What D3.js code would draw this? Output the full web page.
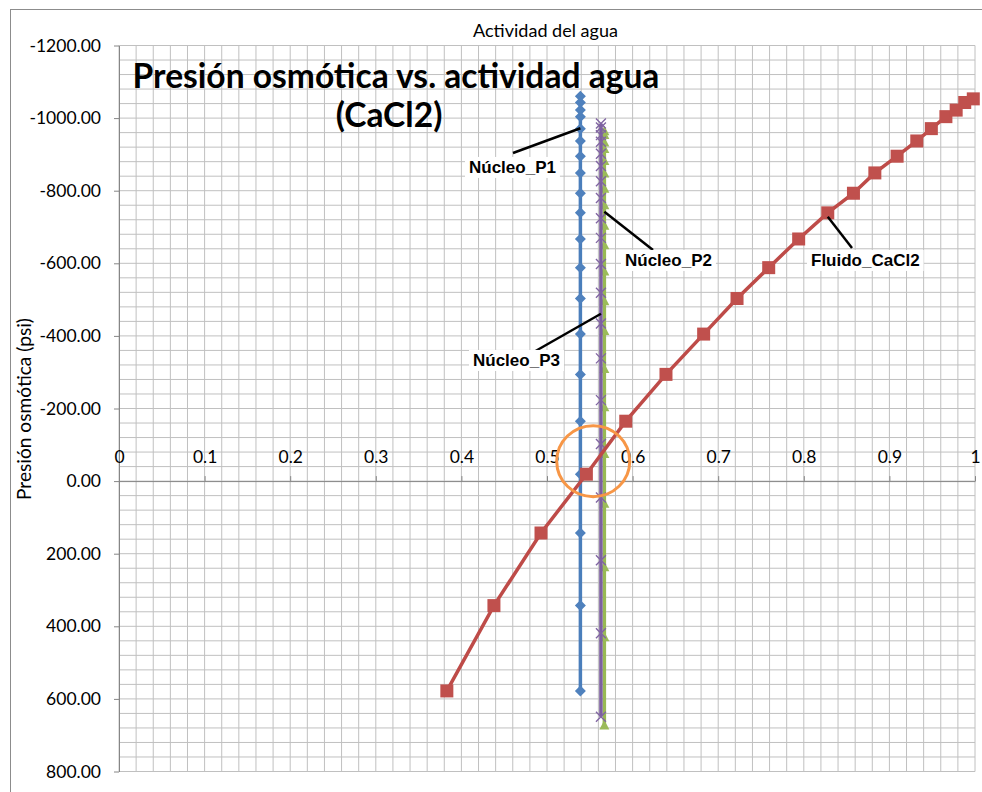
<!DOCTYPE html>
<html>
<head>
<meta charset="utf-8">
<script src="https://cdn.jsdelivr.net/npm/d3@7"></script>
<style>
  html, body { margin: 0; padding: 0; background: #fff; }
  svg { display: block; }
</style>
</head>
<body>
<svg id="chart" width="982" height="792"></svg>
<script>
// ---------------- DATA ----------------
const xTickValues = [0, 0.1, 0.2, 0.3, 0.4, 0.5, 0.6, 0.7, 0.8, 0.9, 1];
const xTickLabels = ["0", "0.1", "0.2", "0.3", "0.4", "0.5", "0.6", "0.7", "0.8", "0.9", "1"];
const yTickValues = [-1200, -1000, -800, -600, -400, -200, 0, 200, 400, 600, 800];
const yTickLabels = ["-1200.00", "-1000.00", "-800.00", "-600.00", "-400.00", "-200.00", "0.00", "200.00", "400.00", "600.00", "800.00"];

// Fluido_CaCl2 (water activity, osmotic pressure psi)
const fluidoAw = [0.383, 0.438, 0.493, 0.546, 0.592, 0.639, 0.683, 0.722, 0.759, 0.794,
                  0.828, 0.858, 0.883, 0.909, 0.932, 0.949, 0.966, 0.978, 0.988, 0.998];
const fluidoP  = [578, 343, 143, -19, -165, -294, -405, -503, -588, -667,
                  -739, -793, -849, -895, -937, -971, -1004, -1022, -1043, -1053];

// Núcleo_P1
const nucleoP1Aw = [0.539, 0.539, 0.539, 0.539, 0.539, 0.539, 0.539, 0.539, 0.539, 0.539,
                    0.539, 0.539, 0.539, 0.539, 0.539, 0.539, 0.539, 0.539, 0.539, 0.539];
const nucleoP1P  = [578, 343, 143, -19, -165, -294, -405, -503, -588, -667,
                    -739, -793, -849, -895, -937, -971, -1004, -1022, -1043, -1060];

// Núcleo_P2
const nucleoP2Aw = [0.567, 0.567, 0.567, 0.567, 0.567, 0.567, 0.567, 0.567, 0.567, 0.567,
                    0.567, 0.567, 0.567, 0.567, 0.567, 0.567, 0.567, 0.567, 0.567, 0.567];
const nucleoP2P  = [672, 429, 236, 61, -76, -205, -310, -415, -497, -579,
                    -651, -705, -761, -807, -849, -883, -916, -934, -955, -965];

// Núcleo_P3
const nucleoP3Aw = [0.563, 0.563, 0.563, 0.563, 0.563, 0.563, 0.563, 0.563, 0.563, 0.563,
                    0.563, 0.563, 0.563, 0.563, 0.563, 0.563, 0.563, 0.563, 0.563, 0.563];
const nucleoP3P  = [649, 419, 218, 45, -102, -223, -338, -434, -519, -598,
                    -670, -724, -780, -826, -868, -902, -935, -953, -974, -985];

const titleLines = ["Presión osmótica vs. actividad agua", "(CaCl2)"];
const xTitle = "Actividad del agua";
const yTitle = "Presión osmótica (psi)";

// ---------------- LAYOUT ----------------
const svg = d3.select("#chart");
const x = d3.scaleLinear().domain([0, 1]).range([119, 975]);
const y = d3.scaleLinear().domain([-1200, 800]).range([45.5, 771.5]);

const colors = {
  blue: "#4A7EBB", blueM: "#4F81BD",
  red: "#BE4B48", redM: "#C0504D",
  green: "#98B954", greenM: "#9BBB59",
  purple: "#7D60A0", purpleM: "#8064A2",
  grid: "#C0C0C0", axis: "#868686"
};

// chart border
svg.append("rect").attr("x", 10.5).attr("y", 9.5).attr("width", 1000).attr("height", 800)
  .attr("fill", "#fff").attr("stroke", "#8c8c8c").attr("stroke-width", 1);

// gridlines
const gx = d3.range(0, 51).map(i => i * 0.02);
const gy = d3.range(0, 51).map(i => -1200 + i * 40);
const grid = svg.append("g");
grid.selectAll("line.v").data(gx).join("line")
  .attr("x1", d => x(d)).attr("x2", d => x(d))
  .attr("y1", y(-1200)).attr("y2", y(800))
  .attr("stroke", colors.grid).attr("stroke-width", 1);
grid.selectAll("line.h").data(gy).join("line")
  .attr("y1", d => y(d)).attr("y2", d => y(d))
  .attr("x1", x(0)).attr("x2", x(1))
  .attr("stroke", colors.grid).attr("stroke-width", 1);

// axes
const fontAxis = "Lato, 'Open Sans', sans-serif";
const yAxis = svg.append("g").attr("transform", `translate(${x(0)},0)`)
  .call(d3.axisLeft(y).tickValues(yTickValues)
    .tickFormat((d, i) => yTickLabels[i]).tickSize(5).tickSizeOuter(0).tickPadding(13));
const xAxis = svg.append("g").attr("transform", `translate(0,${y(0)})`)
  .call(d3.axisTop(x).tickValues(xTickValues)
    .tickFormat((d, i) => xTickLabels[i]).tickSize(5).tickSizeOuter(0).tickPadding(13));
[xAxis, yAxis].forEach(a => {
  a.select(".domain").attr("stroke", colors.axis).attr("stroke-width", 1);
  a.selectAll(".tick line").attr("stroke", colors.axis);
  a.selectAll(".tick text").attr("fill", "#000").style("font-family", fontAxis).style("font-size", "17.5px");
});

// series helper
const line = d3.line().x(d => x(d[0])).y(d => y(d[1]));
function series(aw, p) { return aw.map((a, i) => [a, p[i]]); }

const sP1 = series(nucleoP1Aw, nucleoP1P);
const sP2 = series(nucleoP2Aw, nucleoP2P);
const sP3 = series(nucleoP3Aw, nucleoP3P);
const sFl = series(fluidoAw, fluidoP);

const plot = svg.append("g");

// Núcleo_P1 (blue diamonds)
plot.append("path").datum(sP1).attr("d", line).attr("fill", "none")
  .attr("stroke", colors.blue).attr("stroke-width", 3.5);
plot.selectAll("path.dia").data(sP1).join("path").attr("class", "dia")
  .attr("d", d => { const cx = x(d[0]), cy = y(d[1]), r = 5.5;
    return `M${cx},${cy - r}L${cx + r},${cy}L${cx},${cy + r}L${cx - r},${cy}Z`; })
  .attr("fill", colors.blueM);

// Núcleo_P2 (green triangles)
plot.append("path").datum(sP2).attr("d", line).attr("fill", "none")
  .attr("stroke", colors.green).attr("stroke-width", 3.5);
plot.selectAll("path.tri").data(sP2).join("path").attr("class", "tri")
  .attr("d", d => { const cx = x(d[0]), cy = y(d[1]);
    return `M${cx},${cy - 5}L${cx + 5},${cy + 4.5}L${cx - 5},${cy + 4.5}Z`; })
  .attr("fill", colors.greenM);

// Núcleo_P3 (purple x)
plot.append("path").datum(sP3).attr("d", line).attr("fill", "none")
  .attr("stroke", colors.purple).attr("stroke-width", 3.5);
plot.selectAll("path.xm").data(sP3).join("path").attr("class", "xm")
  .attr("d", d => { const cx = x(d[0]), cy = y(d[1]), r = 5;
    return `M${cx - r},${cy - r}L${cx + r},${cy + r}M${cx + r},${cy - r}L${cx - r},${cy + r}`; })
  .attr("stroke", colors.purpleM).attr("stroke-width", 1.3).attr("fill", "none");

// Fluido_CaCl2 (red squares)
plot.append("path").datum(sFl).attr("d", line).attr("fill", "none")
  .attr("stroke", colors.red).attr("stroke-width", 3.5);
plot.selectAll("rect.sq").data(sFl).join("rect").attr("class", "sq")
  .attr("x", d => x(d[0]) - 6.5).attr("y", d => y(d[1]) - 6.5)
  .attr("width", 13).attr("height", 13).attr("fill", colors.redM);

// orange circle annotation
svg.append("ellipse").attr("cx", x(0.554)).attr("cy", y(-55))
  .attr("rx", 36.5).attr("ry", 35.5).attr("fill", "none")
  .attr("stroke", "#F79646").attr("stroke-width", 3);

// fit helper
function fit(sel, target) {
  const n = sel.node();
  const fs = parseFloat(sel.style("font-size"));
  const w = n.getComputedTextLength();
  sel.style("font-size", (fs * target / w) + "px");
}

// title
const t1 = svg.append("text").attr("x", 396).attr("y", 88).attr("text-anchor", "middle")
  .style("font-family", fontAxis).style("font-weight", "700").style("font-size", "32px")
  .attr("fill", "#000").text(titleLines[0]);
fit(t1, 527);
const t2 = svg.append("text").attr("x", 389).attr("y", 127).attr("text-anchor", "middle")
  .style("font-family", fontAxis).style("font-weight", "700").style("font-size", t1.style("font-size"))
  .attr("fill", "#000").text(titleLines[1]);

// axis titles
const xt = svg.append("text").attr("x", 545.5).attr("y", 36.5).attr("text-anchor", "middle")
  .style("font-family", fontAxis).style("font-size", "17px").attr("fill", "#000").text(xTitle);
fit(xt, 145);
const yt = svg.append("text").attr("transform", "translate(31,409) rotate(-90)").attr("text-anchor", "middle")
  .style("font-family", fontAxis).style("font-size", "17px").attr("fill", "#000").text(yTitle);
fit(yt, 182);

// data labels with leader lines
const labels = [
  { text: "Núcleo_P1", lx: 469, ly: 167, from: [513, 153], toData: [nucleoP1Aw[15], -972] },
  { text: "Núcleo_P2", lx: 625, ly: 260, from: [653, 250], toData: [nucleoP2Aw[7], -742] },
  { text: "Núcleo_P3", lx: 473, ly: 360, from: [525, 357], toData: [nucleoP3Aw[9], -461] },
  { text: "Fluido_CaCl2", lx: 811, ly: 260, from: [852, 248], toData: [fluidoAw[10], -728] }
];
labels.forEach(l => {
  svg.append("line").attr("x1", l.from[0]).attr("y1", l.from[1])
    .attr("x2", x(l.toData[0])).attr("y2", y(l.toData[1]))
    .attr("stroke", "#000").attr("stroke-width", 2.5);
  const g = svg.append("g");
  const r = g.append("rect").attr("fill", "#fff");
  const t = g.append("text").attr("x", l.lx).attr("y", l.ly).attr("dy", "0.35em")
    .style("font-family", "'Liberation Sans', Arial, sans-serif").style("font-weight", "bold")
    .style("font-size", "17px").attr("fill", "#000").text(l.text);
  const b = t.node().getBBox();
  r.attr("x", b.x - 4).attr("y", b.y - 1).attr("width", b.width + 8).attr("height", b.height + 2);
});
</script>
</body>
</html>
